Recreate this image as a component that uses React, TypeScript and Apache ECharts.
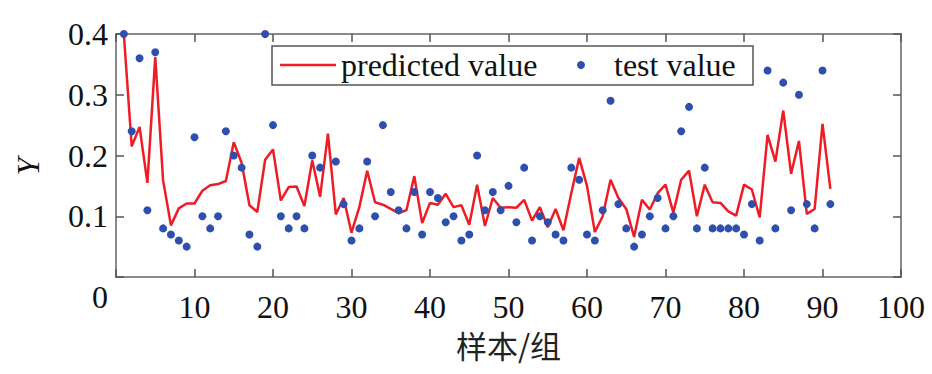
import React, { useEffect, useRef } from "react";
import * as echarts from "echarts";

const predicted = [
  0.4, 0.215, 0.247, 0.155, 0.362, 0.159, 0.085, 0.113, 0.121, 0.121,
  0.142, 0.151, 0.153, 0.158, 0.222, 0.188, 0.118, 0.107, 0.193, 0.21,
  0.126, 0.148, 0.149, 0.117, 0.192, 0.132, 0.236, 0.103, 0.13, 0.073,
  0.115, 0.175, 0.123, 0.119, 0.112, 0.105, 0.11, 0.166, 0.089, 0.122,
  0.119, 0.137, 0.115, 0.118, 0.086, 0.152, 0.084, 0.13, 0.114, 0.115,
  0.114, 0.127, 0.093, 0.115, 0.082, 0.112, 0.077, 0.138, 0.196, 0.15,
  0.074, 0.1, 0.16, 0.13, 0.112, 0.066, 0.127, 0.111, 0.138, 0.152,
  0.106, 0.16, 0.175, 0.1, 0.152, 0.123, 0.122, 0.108, 0.101, 0.152,
  0.144, 0.098, 0.234, 0.19, 0.274, 0.17, 0.224, 0.104, 0.112, 0.252, 0.145,
];

const tested: (number | null)[] = [
  0.4, 0.24, 0.36, 0.11, 0.37, 0.08, 0.07, 0.06, 0.05, 0.23,
  0.1, 0.08, 0.1, 0.24, 0.2, 0.18, 0.07, 0.05, 0.4, 0.25,
  0.1, 0.08, 0.1, 0.08, 0.2, 0.18, null, 0.19, 0.12, 0.06,
  0.08, 0.19, 0.1, 0.25, 0.14, 0.11, 0.08, 0.14, 0.07, 0.14,
  0.13, 0.09, 0.1, 0.06, 0.07, 0.2, 0.11, 0.14, 0.11, 0.15,
  0.09, 0.18, 0.06, 0.1, 0.09, 0.07, 0.06, 0.18, 0.16, 0.07,
  0.06, 0.11, 0.29, 0.12, 0.08, 0.05, 0.07, 0.1, 0.13, 0.08,
  0.1, 0.24, 0.28, 0.08, 0.18, 0.08, 0.08, 0.08, 0.08, 0.07,
  0.12, 0.06, 0.34, 0.08, 0.32, 0.11, 0.3, 0.12, 0.08, 0.34, 0.12,
];

const seriesNames = ["predicted value", "test value"];
const xName = "样本/组";
const yName = "Y";

const SERIF = "Liberation Serif";
const AXIS_GRAY = "#8a8a8a";
const TICK_COLOR = "#555";
const RED = "#ee1c25";
const BLUE = "#2f4fae";

export default function App() {
  const ref = useRef<HTMLDivElement>(null);

  useEffect(() => {
    if (!ref.current) return;
    const chart = echarts.init(ref.current, undefined, { renderer: "svg" });

    const lineData = predicted.map((v, i) => [i + 1, v]);
    const scatterData = tested
      .map((v, i) => [i + 1, v])
      .filter((d) => d[1] !== null);

    const axisLine = { show: true, onZero: false, lineStyle: { color: AXIS_GRAY, width: 2 } };
    const axisTick = { show: true, inside: true, length: 8, lineStyle: { color: TICK_COLOR, width: 1.5 } };

    const xCommon = {
      type: "value" as const,
      min: 0,
      max: 100,
      interval: 10,
      splitLine: { show: false },
      axisLine,
      axisTick,
    };
    const yCommon = {
      type: "value" as const,
      min: 0,
      max: 0.4,
      interval: 0.1,
      splitLine: { show: false },
      axisLine,
      axisTick,
    };

    const legendText = { fontFamily: SERIF, fontSize: 32, color: "#111", height: 32, lineHeight: 32 };

    chart.setOption({
      animation: false,
      backgroundColor: "#ffffff",
      grid: { left: 116, right: 31, top: 34, bottom: 97 },
      legend: {
        left: 272,
        top: 46,
        orient: "horizontal",
        itemWidth: 56,
        itemHeight: 8,
        itemGap: 9,
        padding: [3, 13, 4, 8],
        borderColor: "#555",
        borderWidth: 1.5,
        backgroundColor: "#fff",
        formatter: (name: string) =>
          name === seriesNames[0] ? `{a|${name}}` : `{b|${name}}`,
        textStyle: {
          fontFamily: SERIF,
          fontSize: 32,
          color: "#111",
          rich: {
            a: { ...legendText, width: 227 },
            b: { ...legendText, width: 126 },
          },
        },
        data: [
          {
            name: seriesNames[0],
            icon: "path://M0,0L0,8L0,0ZM0,2.75L56,2.75L56,5.25L0,5.25Z",
            itemStyle: { color: RED },
          },
          {
            name: seriesNames[1],
            icon: "circle",
            itemStyle: { color: BLUE, opacity: 1 },
          },
        ],
      },
      xAxis: [
        {
          ...xCommon,
          position: "bottom",
          name: xName,
          nameLocation: "middle",
          nameGap: 52,
          nameTextStyle: {
            fontFamily: "Noto Sans CJK SC",
            fontSize: 31,
            color: "#222",
          },
          axisLabel: {
            margin: 14,
            fontFamily: SERIF,
            fontSize: 32,
            color: "#111",
            formatter: (v: number) => (v === 0 ? "" : String(v)),
          },
        },
        {
          ...xCommon,
          position: "top",
          axisLabel: { show: false },
        },
      ],
      yAxis: [
        {
          ...yCommon,
          position: "left",
          name: yName,
          nameLocation: "middle",
          nameRotate: 90,
          nameGap: 72,
          nameTextStyle: {
            fontFamily: SERIF,
            fontStyle: "italic",
            fontSize: 32,
            color: "#111",
            padding: [0, 22, 0, 0],
          },
          axisLabel: {
            margin: 8,
            fontFamily: SERIF,
            fontSize: 32,
            color: "#111",
            formatter: (v: number) => (v === 0 ? "{z|0}" : v.toFixed(1)),
            rich: {
              z: { fontFamily: SERIF, fontSize: 32, color: "#111", padding: [40, 0, 0, 0] },
            },
          },
        },
        {
          ...yCommon,
          position: "right",
          axisLabel: { show: false },
        },
      ],
      series: [
        {
          name: seriesNames[0],
          type: "line",
          xAxisIndex: 0,
          yAxisIndex: 0,
          data: lineData,
          showSymbol: false,
          symbol: "none",
          lineStyle: { color: RED, width: 2.5 },
          itemStyle: { color: RED },
          clip: false,
          z: 2,
        },
        {
          name: seriesNames[1],
          type: "scatter",
          xAxisIndex: 0,
          yAxisIndex: 0,
          data: scatterData,
          symbol: "circle",
          symbolSize: 8,
          itemStyle: { color: BLUE, opacity: 1 },
          clip: false,
          z: 3,
        },
      ],
    });

    return () => chart.dispose();
  }, []);

  return (
    <div
      ref={ref}
      style={{ position: "fixed", left: 0, top: 0, width: 932, height: 374, background: "#fff" }}
    />
  );
}
